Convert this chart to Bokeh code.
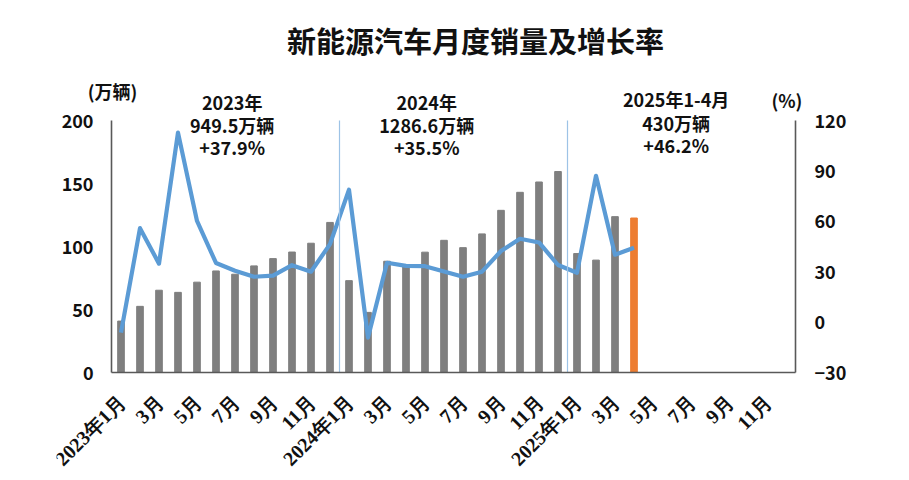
from bokeh.plotting import figure
from bokeh.models import Range1d, LinearAxis, FixedTicker, Label, ColumnDataSource
from bokeh.embed import file_html
from bokeh.resources import INLINE
import math

# ---- data ----
months = ["2023-01", "2023-02", "2023-03", "2023-04", "2023-05", "2023-06",
          "2023-07", "2023-08", "2023-09", "2023-10", "2023-11", "2023-12",
          "2024-01", "2024-02", "2024-03", "2024-04", "2024-05", "2024-06",
          "2024-07", "2024-08", "2024-09", "2024-10", "2024-11", "2024-12",
          "2025-01", "2025-02", "2025-03", "2025-04", "2025-05", "2025-06",
          "2025-07", "2025-08", "2025-09", "2025-10", "2025-11", "2025-12"]
sales = [40.8, 52.5, 65.3, 63.6, 71.7, 80.6, 78.0, 84.6, 90.4, 95.6, 102.6, 119.1,
         72.9, 47.7, 88.3, 85.0, 95.5, 104.9, 99.1, 110.0, 128.7, 143.0, 151.2, 159.5,
         94.4, 89.2, 123.7, 122.6]
growth = [-6.3, 55.9, 34.8, 112.8, 60.2, 35.2, 30.6, 27.0, 27.7, 33.9, 30.0, 46.4,
          78.8, -9.2, 35.3, 33.5, 33.3, 30.1, 27.0, 30.0, 42.3, 49.6, 47.4, 34.0,
          29.4, 87.1, 40.1, 44.2]
left_ticks = [0, 50, 100, 150, 200]
right_ticks = [-30, 0, 30, 60, 90, 120]
tick_labels = ["2023年1月", "3月", "5月", "7月", "9月", "11月",
               "2024年1月", "3月", "5月", "7月", "9月", "11月",
               "2025年1月", "3月", "5月", "7月", "9月", "11月"]
year_notes = [["2023年", "949.5万辆", "+37.9%"],
              ["2024年", "1286.6万辆", "+35.5%"],
              ["2025年1-4月", "430万辆", "+46.2%"]]
title_text = "新能源汽车月度销量及增长率"

FONT = "Noto Sans CJK SC"
GRAY = "#7F7F7F"
ORANGE = "#ED7D31"
BLUE = "#5B9BD5"
AXIS = "#595959"
TXT = "#111111"

n = len(months)
W, H = 905, 478
BL, BR = 56, 56
AX_L, AX_R, AX_B, AX_T = 111, 795, 372, 120   # chart box in pixels
PX = (AX_R - AX_L) / n
x0 = -0.5 - (AX_L - BL) / PX
x1 = n - 0.5 + ((W - BR) - AX_R) / PX
ppu_l = (AX_B - AX_T) / (left_ticks[-1] - left_ticks[0])
ppu_r = (AX_B - AX_T) / (right_ticks[-1] - right_ticks[0])
yl0 = left_ticks[0] - (H - AX_B) / ppu_l
yl1 = left_ticks[0] + AX_B / ppu_l
yr0 = right_ticks[0] - (H - AX_B) / ppu_r
yr1 = right_ticks[0] + AX_B / ppu_r

idx = list(range(len(sales)))
bar_colors = [GRAY] * (len(sales) - 1) + [ORANGE]
src = ColumnDataSource(dict(x=idx, sales=sales, growth=growth, color=bar_colors))

p = figure(width=W, height=H, output_backend="svg", toolbar_location=None,
           x_range=Range1d(x0, x1), y_range=Range1d(yl0, yl1),
           x_axis_location=None,
           min_border_left=BL, min_border_right=BR, min_border_top=0,
           min_border_bottom=0)
p.extra_y_ranges = {"pct": Range1d(yr0, yr1)}
p.outline_line_color = None
p.grid.visible = False
p.background_fill_color = "white"
p.border_fill_color = "white"

p.vbar(x="x", top="sales", bottom=0, width=0.35, color="color", source=src)
p.line(x="x", y="growth", line_color=BLUE, line_width=4.2, y_range_name="pct",
       source=src, line_join="round")

# year separators
for xs in (11.5, 23.5):
    p.segment(x0=[xs], y0=[0], x1=[xs], y1=[left_ticks[-1]], line_color="#9DC3E6",
              line_width=1.2)

# axis lines (limited to the chart box)
p.segment(x0=[-0.5, n - 0.5, -0.5], y0=[0, 0, 0], x1=[-0.5, n - 0.5, n - 0.5],
          y1=[left_ticks[-1], left_ticks[-1], 0], line_color=AXIS, line_width=1.6)

def style_axis(ax, size="18px", standoff=18):
    ax.major_tick_line_color = None
    ax.minor_tick_line_color = None
    ax.major_tick_out = 0
    ax.major_tick_in = 0
    ax.minor_tick_out = 0
    ax.minor_tick_in = 0
    ax.axis_line_color = None
    ax.major_label_text_font = FONT
    ax.major_label_text_font_style = "bold"
    ax.major_label_text_font_size = size
    ax.major_label_text_color = TXT
    ax.major_label_standoff = standoff

p.yaxis.ticker = FixedTicker(ticks=left_ticks)
p.yaxis.fixed_location = -0.5
style_axis(p.yaxis[0])

right = LinearAxis(y_range_name="pct", ticker=FixedTicker(ticks=right_ticks),
                   fixed_location=n - 0.5)
style_axis(right, standoff=19)
p.add_layout(right, "right")

# month labels along the category axis
xt = list(range(0, n, 2))
p.text(x=xt, y=[0] * len(xt), text=tick_labels, angle=math.pi / 4,
       text_align="right", text_baseline="middle", x_offset=1, y_offset=26,
       text_font=FONT, text_font_style="bold", text_font_size="20px",
       text_color=TXT)

# texts
def lab(x, y, text, size):
    p.add_layout(Label(x=x, y=y, text=text, text_align="center",
                       text_baseline="middle", text_font=FONT, text_font_style="bold",
                       text_font_size=size, text_color=TXT))

lab(18.66, 263.5, title_text, "29px")
lab(-0.45, 223.8, "(万辆)", "18px")
lab(35.05, 215.9, "(%)", "18px")

note_x = [5.85, 16.09, 29.22]
note_y = [[214.7, 196.4, 179.0], [214.7, 196.4, 179.0], [217.2, 198.0, 180.7]]
for nx, ny, lines in zip(note_x, note_y, year_notes):
    for yy, t in zip(ny, lines):
        lab(nx, yy, t, "18px")

open("out.html", "w").write(file_html(p, INLINE))
